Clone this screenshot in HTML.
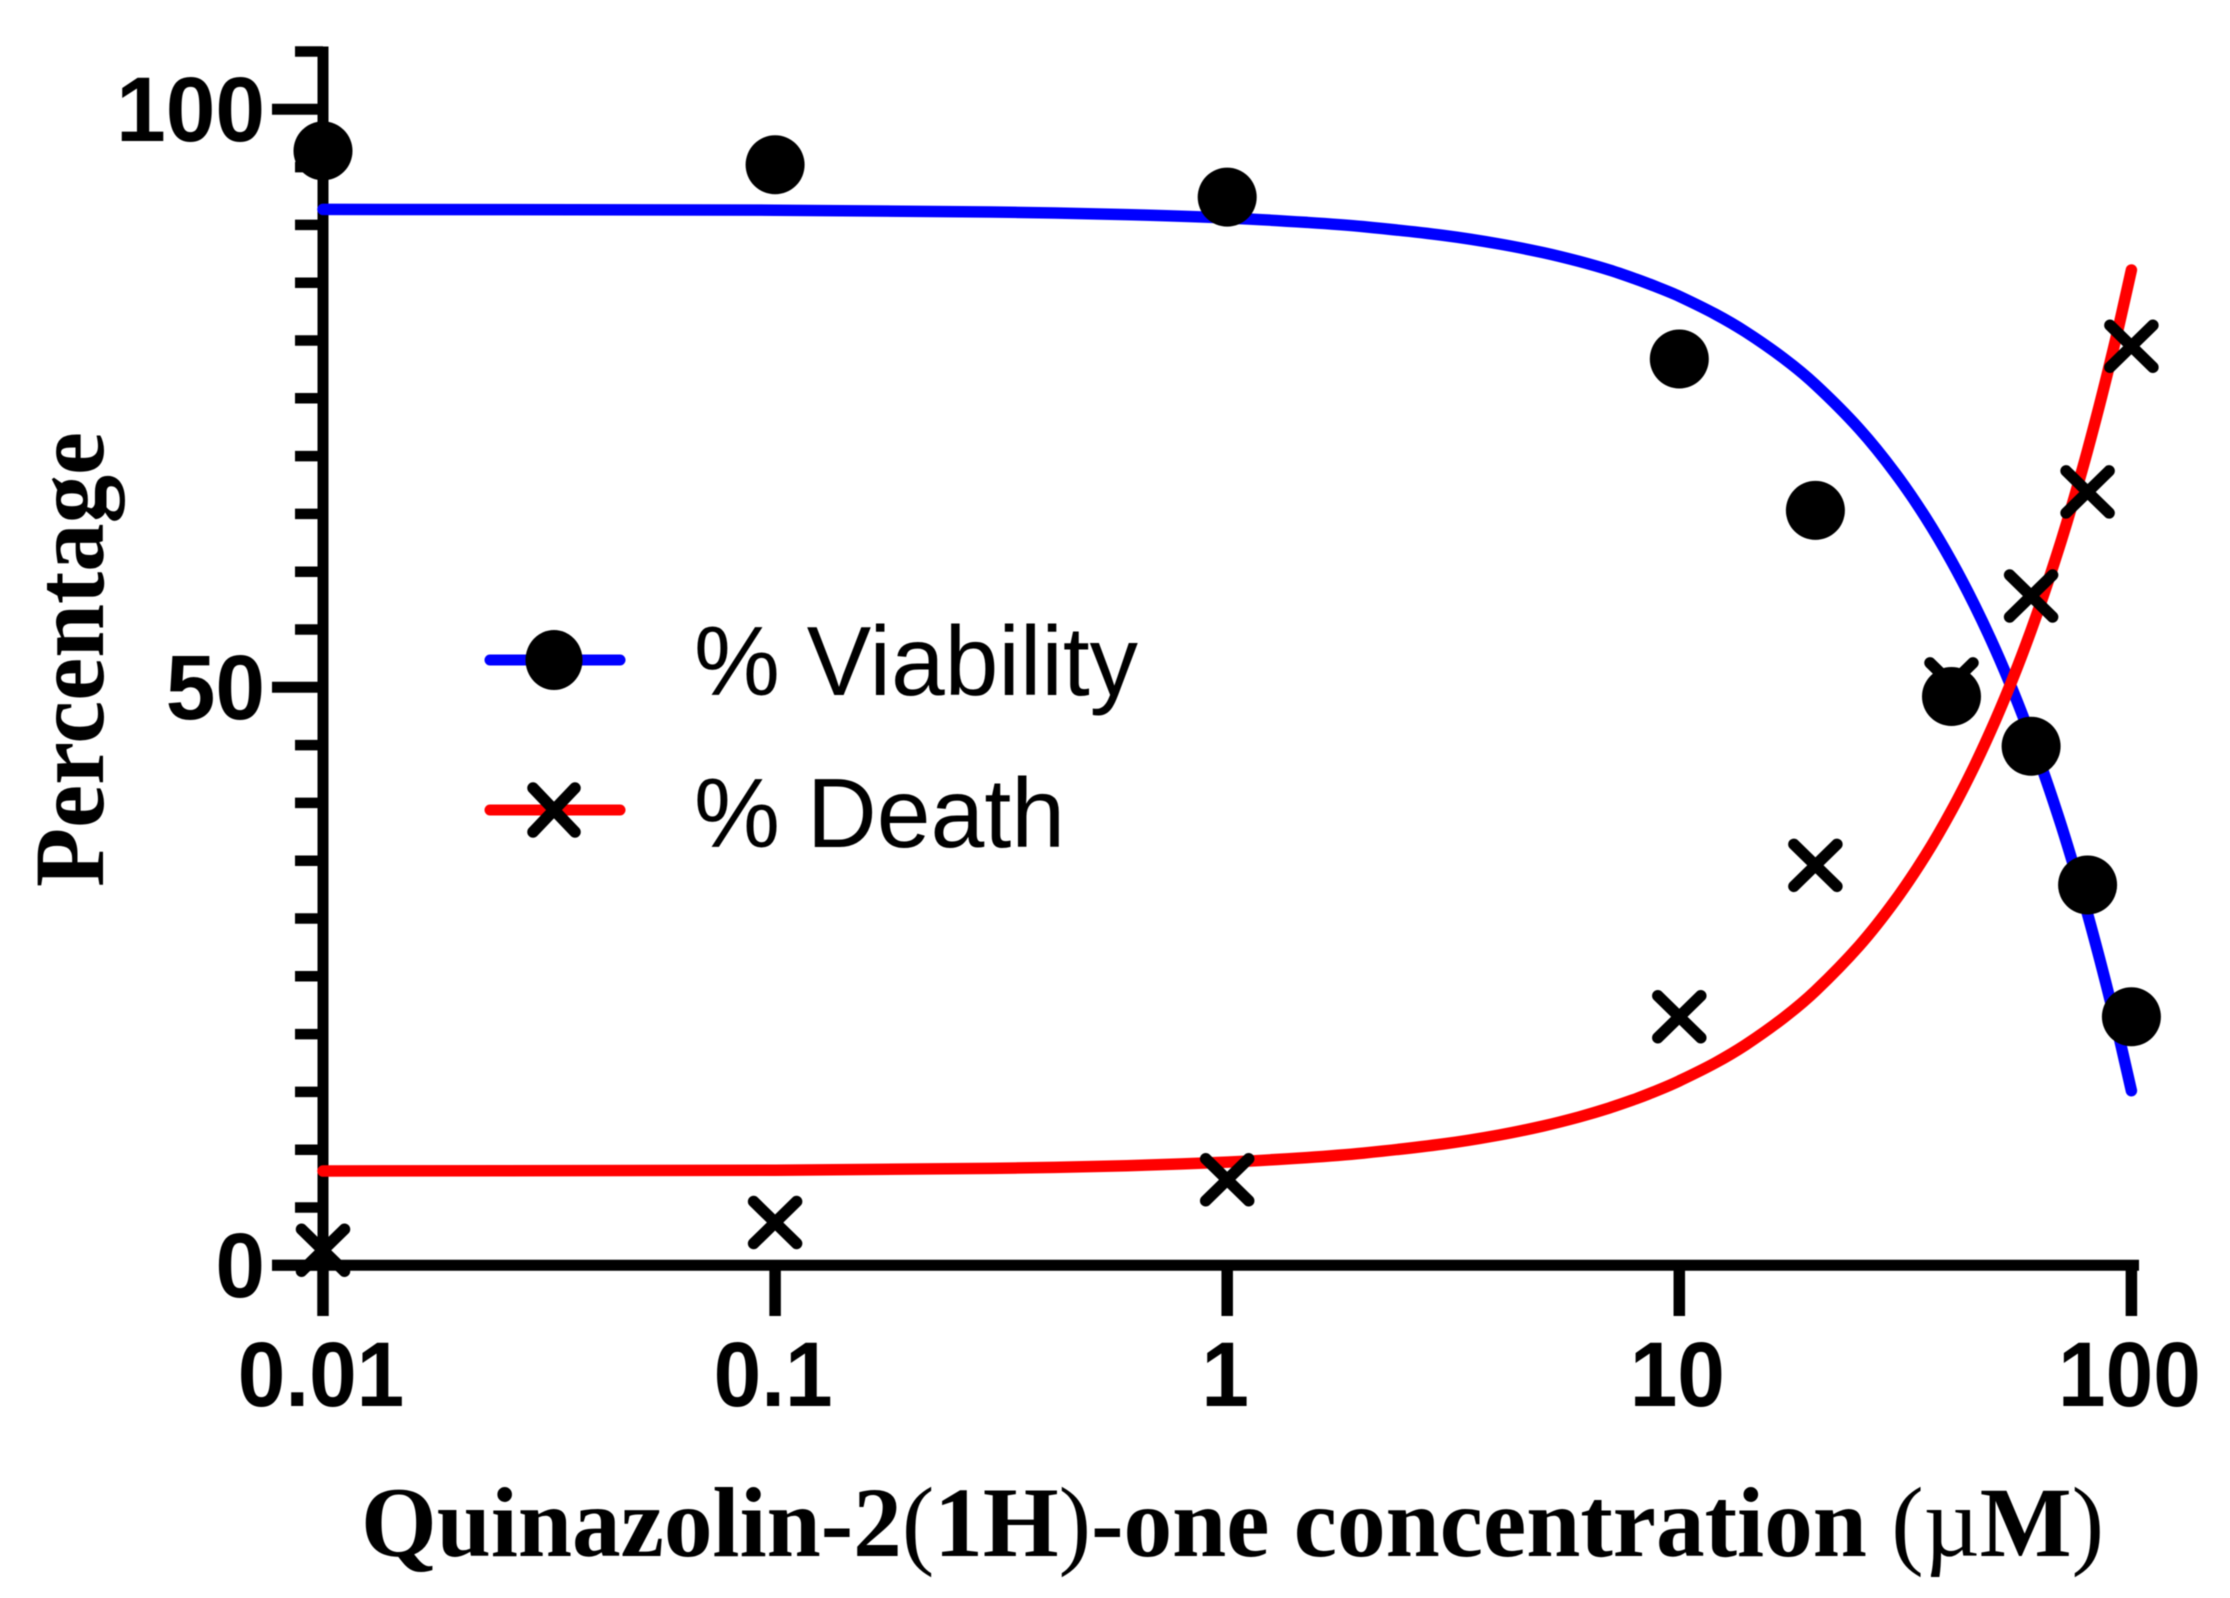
<!DOCTYPE html>
<html lang="en">
<head>
<meta charset="utf-8">
<title>Quinazolin-2(1H)-one dose response</title>
<style>
html,body{margin:0;padding:0;background:#fff;width:2230px;height:1598px;overflow:hidden}
svg{display:block;filter:blur(.5px)}
.tick{font-family:"Liberation Sans",Arial,sans-serif;font-weight:700;font-size:92px;fill:#000}
.title{font-family:"Liberation Serif","Times New Roman",serif;font-weight:700;fill:#000}
.thin{font-weight:400}
.legend-text{font-family:"Liberation Sans",Arial,sans-serif;font-size:98px;fill:#000}
</style>
</head>
<body>
<svg id="chart" xmlns="http://www.w3.org/2000/svg" width="2230" height="1598" viewBox="0 0 2230 1598">
  <rect x="0" y="0" width="2230" height="1598" fill="#fff"/>
  <g id="axes"></g>
  <g id="curves"></g>
  <g id="marks"></g>
  <text class="title" transform="translate(103,887) rotate(-90)" font-size="100" textLength="455" lengthAdjust="spacingAndGlyphs">Percentage</text>
  <text class="title" x="361" y="1556" font-size="100" textLength="1743" lengthAdjust="spacingAndGlyphs">Quinazolin-2<tspan class="thin">(</tspan>1H<tspan class="thin">)</tspan>-one concentration <tspan class="thin">(µ</tspan>M<tspan class="thin">)</tspan></text>
  <g id="legend">
    <g>
      <line x1="490" y1="660" x2="620" y2="660" stroke="#0000ff" stroke-width="11" stroke-linecap="round"/>
      <ellipse cx="554" cy="660" rx="28.5" ry="30" fill="#000"/>
      <text class="legend-text" x="694" y="695" textLength="444" lengthAdjust="spacingAndGlyphs">% Viability</text>
    </g>
    <g>
      <line x1="490" y1="810" x2="620" y2="810" stroke="#ff0000" stroke-width="11" stroke-linecap="round"/>
      <path d="M533 788L575 832M575 788L533 832" stroke="#000" stroke-width="11.5" stroke-linecap="round" fill="none"/>
      <text class="legend-text" x="694" y="847" textLength="371" lengthAdjust="spacingAndGlyphs">% Death</text>
    </g>
  </g>
</svg>
<script>
// Tick data
var xTickValues = [0.01, 0.1, 1, 10, 100];
var xTickLabels = ["0.01", "0.1", "1", "10", "100"];
var yMajorTicks = [0, 50, 100];
var yMajorLabels = ["0", "50", "100"];
var yMinorTicks = [5, 10, 15, 20, 25, 30, 35, 40, 45, 55, 60, 65, 70, 75, 80, 85, 90, 95, 105];

// Measured points
var concentrations = [0.01, 0.1, 1, 10, 20, 40, 60, 80, 100];
var viabilityValues = [96.4, 95.2, 92.4, 78.4, 65.3, 49.2, 44.9, 32.9, 21.5];
var deathValues = [1.3, 3.7, 7.4, 21.5, 34.6, 50.3, 57.9, 66.9, 79.5];

// Fit curves
var curveConcentrations = [0.01, 0.1, 0.3, 0.6, 1, 1.5, 2, 3, 4, 5, 6, 7, 8, 9, 10, 12, 14, 17, 20, 25, 30, 35, 40, 45, 50, 55, 60, 65, 70, 75, 80, 85, 90, 95, 100];
var viabilityCurve = [91.34, 91.27, 91.12, 90.89, 90.6, 90.22, 89.85, 89.1, 88.35, 87.6, 86.85, 86.1, 85.33, 84.57, 83.82, 82.29, 80.76, 78.47, 76.18, 72.36, 68.55, 64.73, 60.91, 57.09, 53.28, 49.46, 45.64, 41.82, 38.01, 34.19, 30.37, 26.55, 22.74, 18.92, 15.1];
var deathCurve = [8.16, 8.23, 8.38, 8.62, 8.93, 9.32, 9.71, 10.49, 11.27, 12.05, 12.83, 13.61, 14.39, 15.17, 15.95, 17.5, 19.06, 21.4, 23.74, 27.64, 31.54, 35.43, 39.33, 43.23, 47.13, 51.02, 54.92, 58.82, 62.72, 66.61, 70.51, 74.41, 78.31, 82.2, 86.1];

var SVG_NS = "http://www.w3.org/2000/svg";
function xScale(c) { return 323 + 452.1 * (Math.log10(c) + 2); }
function yScale(v) { return 1265.3 - 11.56 * v; }
function make(tag, parent) {
  var el = document.createElementNS(SVG_NS, tag);
  parent.appendChild(el);
  return el;
}
function seg(el, x1, y1, x2, y2, w) {
  el.setAttribute("x1", x1);
  el.setAttribute("y1", y1);
  el.setAttribute("x2", x2);
  el.setAttribute("y2", y2);
  el.setAttribute("stroke", "#000");
  el.setAttribute("stroke-width", w);
}
function squeeze(el, factor) {
  el.setAttribute("textLength", (el.getComputedTextLength() * factor).toFixed(1));
  el.setAttribute("lengthAdjust", "spacingAndGlyphs");
}

var axes = document.getElementById("axes");
var curves = document.getElementById("curves");
var marks = document.getElementById("marks");

var yAxisLine = make("line", axes);


seg(yAxisLine, xScale(0.01), yScale(105) - 5, xScale(0.01), 1265.3, 11);

var xAxisLine = make("line", axes);


seg(xAxisLine, 272, 1265.3, 2139, 1265.3, 11);

yMinorTicks.forEach(function (v) {
  var t = make("line", axes);
  
  
  seg(t, 295, yScale(v), xScale(0.01), yScale(v), 10.5);
});

yMajorTicks.forEach(function (v, i) {
  var t = make("line", axes);
  
  
  seg(t, 272, yScale(v), xScale(0.01), yScale(v), 11);
  var label = make("text", axes);
  
  
  label.setAttribute("class", "tick");
  label.setAttribute("x", 265);
  label.setAttribute("y", yScale(v) + 31.5);
  label.setAttribute("text-anchor", "end");
  label.textContent = yMajorLabels[i];
  squeeze(label, 0.97);
});

xTickValues.forEach(function (c, i) {
  var t = make("line", axes);
  
  
  seg(t, xScale(c), 1260, xScale(c), 1316, 11.5);
  var label = make("text", axes);
  
  
  label.setAttribute("class", "tick");
  label.setAttribute("x", xScale(c) - 2);
  label.setAttribute("y", 1406);
  label.setAttribute("text-anchor", "middle");
  label.textContent = xTickLabels[i];
  squeeze(label, 0.93);
});

function curvePath(values) {
  var pts = values.map(function (v, i) {
    return [xScale(curveConcentrations[i]), yScale(v)];
  });
  var d = "M" + pts[0][0].toFixed(1) + " " + pts[0][1].toFixed(1);
  for (var i = 0; i < pts.length - 1; i++) {
    var p0 = pts[Math.max(i - 1, 0)];
    var p1 = pts[i];
    var p2 = pts[i + 1];
    var p3 = pts[Math.min(i + 2, pts.length - 1)];
    var seglen = p2[0] - p1[0];
    var t1 = (p2[1] - p0[1]) / Math.max(p2[0] - p0[0], 1);
    var t2 = (p3[1] - p1[1]) / Math.max(p3[0] - p1[0], 1);
    d += "C" + (p1[0] + seglen / 3).toFixed(1) + " " + (p1[1] + t1 * seglen / 3).toFixed(1) +
         " " + (p2[0] - seglen / 3).toFixed(1) + " " + (p2[1] - t2 * seglen / 3).toFixed(1) +
         " " + p2[0].toFixed(1) + " " + p2[1].toFixed(1);
  }
  return d;
}

var viabilityLine = make("path", curves);


viabilityLine.setAttribute("d", curvePath(viabilityCurve));
viabilityLine.setAttribute("fill", "none");
viabilityLine.setAttribute("stroke", "#0000ff");
viabilityLine.setAttribute("stroke-width", "11.5");
viabilityLine.setAttribute("stroke-linecap", "round");
viabilityLine.setAttribute("stroke-linejoin", "round");

var deathLine = make("path", curves);


deathLine.setAttribute("d", curvePath(deathCurve));
deathLine.setAttribute("fill", "none");
deathLine.setAttribute("stroke", "#ff0000");
deathLine.setAttribute("stroke-width", "11.5");
deathLine.setAttribute("stroke-linecap", "round");
deathLine.setAttribute("stroke-linejoin", "round");

deathValues.forEach(function (v, i) {
  var cx = xScale(concentrations[i]);
  var cy = yScale(v);
  var m = make("path", marks);
  
  
  m.setAttribute("d", "M" + (cx - 21.5) + " " + (cy - 21) + "L" + (cx + 21.5) + " " + (cy + 21) + "M" + (cx + 21.5) + " " + (cy - 21) + "L" + (cx - 21.5) + " " + (cy + 21));
  m.setAttribute("stroke", "#000");
  m.setAttribute("stroke-width", "11.5");
  m.setAttribute("stroke-linecap", "round");
  m.setAttribute("fill", "none");
});

viabilityValues.forEach(function (v, i) {
  var c = make("circle", marks);
  
  
  c.setAttribute("cx", xScale(concentrations[i]));
  c.setAttribute("cy", yScale(v));
  c.setAttribute("r", "29.5");
  c.setAttribute("fill", "#000");
});
</script>
</body>
</html>
